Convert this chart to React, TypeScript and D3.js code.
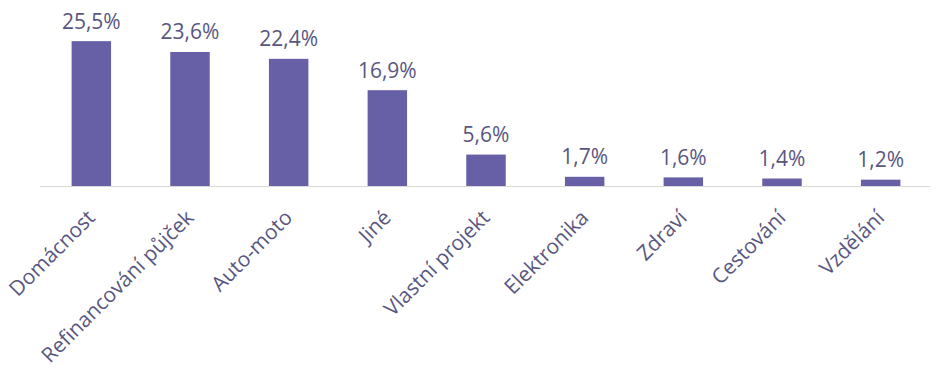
import React from "react";
import * as d3 from "d3";

const categories = [
  "Domácnost",
  "Refinancování půjček",
  "Auto-moto",
  "Jiné",
  "Vlastní projekt",
  "Elektronika",
  "Zdraví",
  "Cestování",
  "Vzdělání",
];
const values = [25.5, 23.6, 22.4, 16.9, 5.6, 1.7, 1.6, 1.4, 1.2];
const valueLabels = ["25,5%", "23,6%", "22,4%", "16,9%", "5,6%", "1,7%", "1,6%", "1,4%", "1,2%"];

const W = 946;
const H = 379;
const baseY = 186.5;
const FONT = "'Open Sans', 'Noto Sans', sans-serif";
const BAR = "#6760A6";
const TEXT = "#595680";

export default function App() {
  const x = d3
    .scaleBand<string>()
    .domain(categories)
    .range([42, 930])
    .paddingInner(0.6)
    .paddingOuter(0.3);
  const y = d3.scaleLinear().domain([0, 30]).range([baseY, baseY - 171]);

  return (
    <svg
      width={W}
      height={H}
      style={{ position: "absolute", left: 0, top: 0, background: "#fff" }}
    >
      <rect x={0} y={0} width={W} height={H} fill="#fff" />
      {categories.map((c, i) => {
        const bx = x(c)!;
        const cx = bx + x.bandwidth() / 2;
        return (
          <g key={c}>
            <rect
              x={bx}
              y={y(values[i])}
              width={x.bandwidth()}
              height={baseY - y(values[i])}
              fill={BAR}
            />
            <text
              x={cx}
              y={y(values[i]) - 12.5}
              textAnchor="middle"
              fontFamily={FONT}
              fontSize={21}
              fill={TEXT}
            >
              {valueLabels[i]}
            </text>
            <text
              transform={`translate(${cx + 5},${219}) rotate(-45)`}
              textAnchor="end"
              fontFamily={FONT}
              fontSize={20.8}
              fill={TEXT}
            >
              {c}
            </text>
          </g>
        );
      })}
      <line x1={40} x2={930} y1={baseY} y2={baseY} stroke="#D9D9D9" strokeWidth={1} />
    </svg>
  );
}
